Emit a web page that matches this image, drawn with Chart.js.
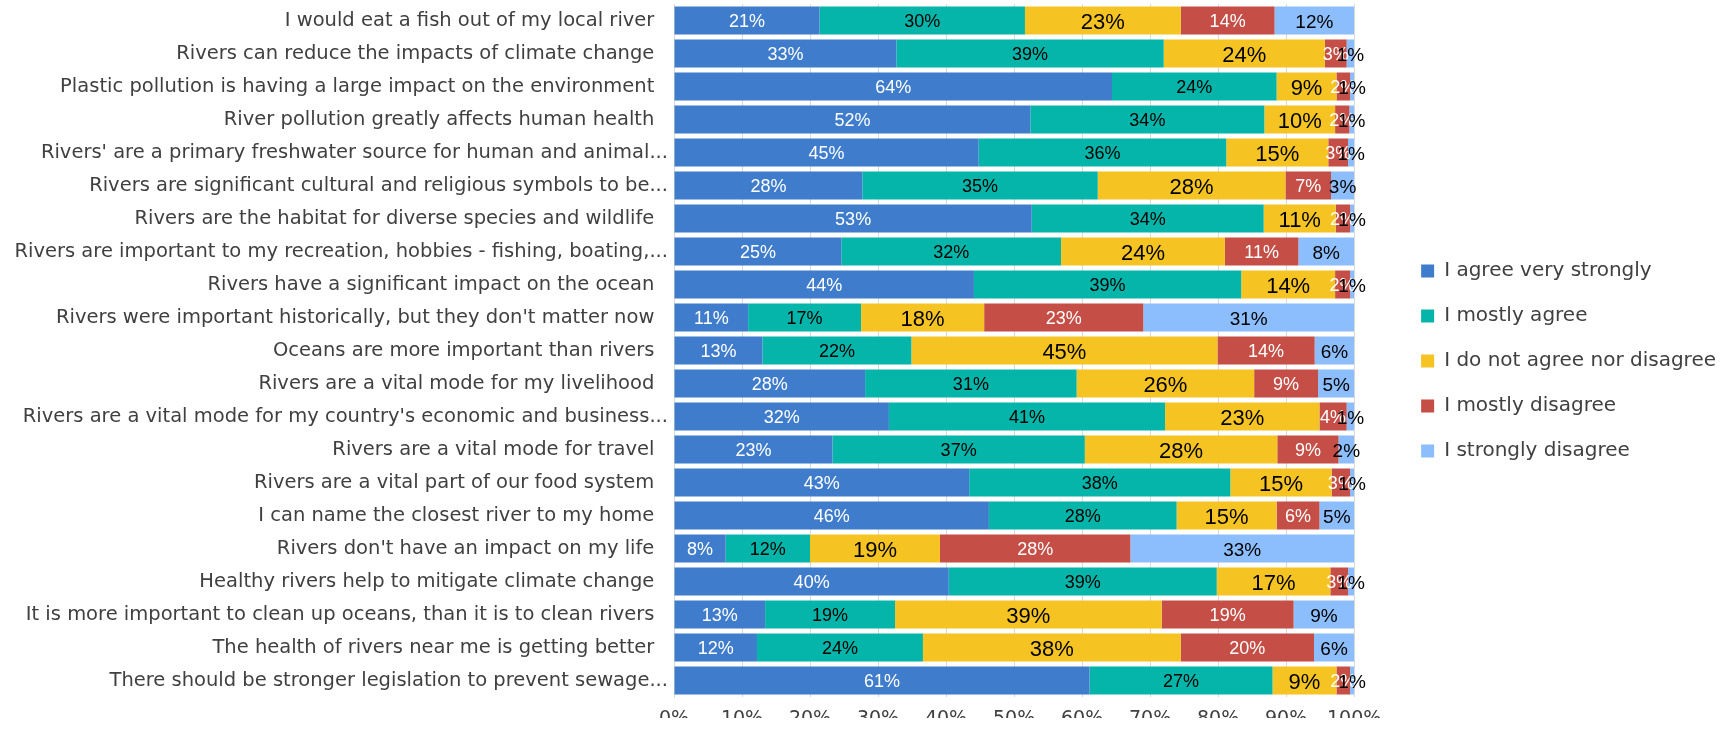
<!DOCTYPE html>
<html><head><meta charset="utf-8">
<script src="https://cdn.jsdelivr.net/npm/chart.js@4.4.1/dist/chart.umd.min.js"></script>
<style>html,body{margin:0;padding:0;background:#fff;overflow:hidden}canvas{display:block}</style>
</head><body><canvas id="c" width="1729" height="730"></canvas>
<script>
const categories = [
  "I would eat a fish out of my local river",
  "Rivers can reduce the impacts of climate change",
  "Plastic pollution is having a large impact on the environment",
  "River pollution greatly affects human health",
  "Rivers' are a primary freshwater source for human and animal...",
  "Rivers are significant cultural and religious symbols to be...",
  "Rivers are the habitat for diverse species and wildlife",
  "Rivers are important to my recreation, hobbies - fishing, boating,...",
  "Rivers have a significant impact on the ocean",
  "Rivers were important historically, but they don't matter now",
  "Oceans are more important than rivers",
  "Rivers are a vital mode for my livelihood",
  "Rivers are a vital mode for my country's economic and business...",
  "Rivers are a vital mode for travel",
  "Rivers are a vital part of our food system",
  "I can name the closest river to my home",
  "Rivers don't have an impact on my life",
  "Healthy rivers help to mitigate climate change",
  "It is more important to clean up oceans, than it is to clean rivers",
  "The health of rivers near me is getting better",
  "There should be stronger legislation to prevent sewage..."
];
const seriesNames = ["I agree very strongly","I mostly agree","I do not agree nor disagree","I mostly disagree","I strongly disagree"];
const agreeVeryStrongly = [21.4,32.7,64.4,52.4,44.8,27.7,52.6,24.6,44.1,10.9,13.0,28.1,31.6,23.3,43.4,46.3,7.6,40.4,13.4,12.2,61.1];
const mostlyAgree       = [30.2,39.3,24.2,34.4,36.4,34.6,34.1,32.3,39.3,16.6,21.9,31.1,40.6,37.1,38.4,27.6,12.4,39.4,19.1,24.4,26.9];
const neither           = [22.9,23.7,8.8,10.4,15.0,27.6,10.6,24.1,13.8,18.1,45.0,26.1,22.7,28.3,14.9,14.7,19.1,16.7,39.2,37.9,9.4];
const mostlyDisagree    = [13.8,3.2,2.0,2.1,2.9,6.7,2.1,10.8,2.2,23.4,14.3,9.4,4.0,9.0,2.7,6.3,28.0,2.6,19.4,19.6,2.0];
const stronglyDisagree  = [11.7,1.1,0.6,0.7,0.9,3.4,0.6,8.2,0.6,31.0,5.8,5.3,1.1,2.3,0.6,5.1,32.9,0.9,8.9,5.9,0.6];
const xTickLabels = ["0%","10%","20%","30%","40%","50%","60%","70%","80%","90%","100%"];

const seriesValues = [agreeVeryStrongly, mostlyAgree, neither, mostlyDisagree, stronglyDisagree];
const colors = ["#3F7DCC","#05B5A9","#F5C423","#C54F46","#8CBEFD"];
const labelColors = ["#FFFFFF","#000000","#000000","#FFFFFF","#000000"];
const labelSizes = [18,18,22,18,19];
const labelFamily = "'Liberation Sans Narrow','Arial Narrow','Liberation Sans',sans-serif";
const textFamily = "'DejaVu Sans', Lato, sans-serif";

const segLabels = {
  id: 'segLabels',
  afterDatasetsDraw(chart) {
    const ctx = chart.ctx;
    chart.data.datasets.forEach((ds, di) => {
      const meta = chart.getDatasetMeta(di);
      meta.data.forEach((el, i) => {
        const v = ds.data[i];
        const p = el.getProps(['x','y','base'], true);
        ctx.save();
        ctx.font = labelSizes[di] + 'px ' + labelFamily;
        ctx.fillStyle = labelColors[di];
        ctx.textAlign = 'center';
        ctx.textBaseline = 'middle';
        ctx.fillText(Math.round(v) + '%', (p.x + p.base) / 2, p.y + 2);
        ctx.restore();
      });
    });
  }
};

new Chart(document.getElementById('c'), {
  type: 'bar',
  data: {
    labels: categories,
    datasets: seriesNames.map((n, i) => ({
      label: n,
      data: seriesValues[i],
      backgroundColor: colors[i],
      borderWidth: 0,
      barPercentage: 0.85,
      categoryPercentage: 1.0
    }))
  },
  options: {
    indexAxis: 'y',
    responsive: false,
    animation: false,
    layout: { padding: { top: 4, right: 3, bottom: 12, left: 0 } },
    plugins: {
      tooltip: { enabled: false },
      legend: {
        position: 'right',
        align: 'center',
        maxWidth: 400,
        labels: {
          boxWidth: 13, boxHeight: 13, padding: 25,
          color: '#404040',
          font: { family: textFamily, size: 20 }
        }
      }
    },
    scales: {
      x: {
        stacked: true, min: 0, max: 100,
        ticks: {
          stepSize: 10,
          color: '#404040',
          font: { family: textFamily, size: 19 },
          padding: 11,
          callback: (v) => xTickLabels[Math.round(v / 10)]
        },
        grid: { color: '#D9D9D9', drawTicks: false },
        border: { display: false },
        afterFit: (s) => { s.height = 21; }
      },
      y: {
        stacked: true,
        ticks: {
          autoSkip: false,
          color: '#404040',
          font: { family: textFamily, size: 19.5 },
          padding: 6,
          callback: (v, i) => categories[i].endsWith('...') ? categories[i] : categories[i] + '\u2002\u2009'
        },
        grid: { display: false, drawTicks: false },
        border: { display: true, color: '#D9D9D9' },
        afterFit: (s) => { s.width = 674; s.paddingTop = 0; s.paddingBottom = 0; }
      },
      gap: {
        type: 'linear', position: 'right', axis: 'y',
        display: true,
        ticks: { display: false },
        grid: { display: false, drawTicks: false },
        border: { display: false },
        afterFit: (s) => { s.width = 42; s.paddingTop = 0; s.paddingBottom = 0; }
      }
    }
  },
  plugins: [segLabels]
});
</script>
</body></html>
